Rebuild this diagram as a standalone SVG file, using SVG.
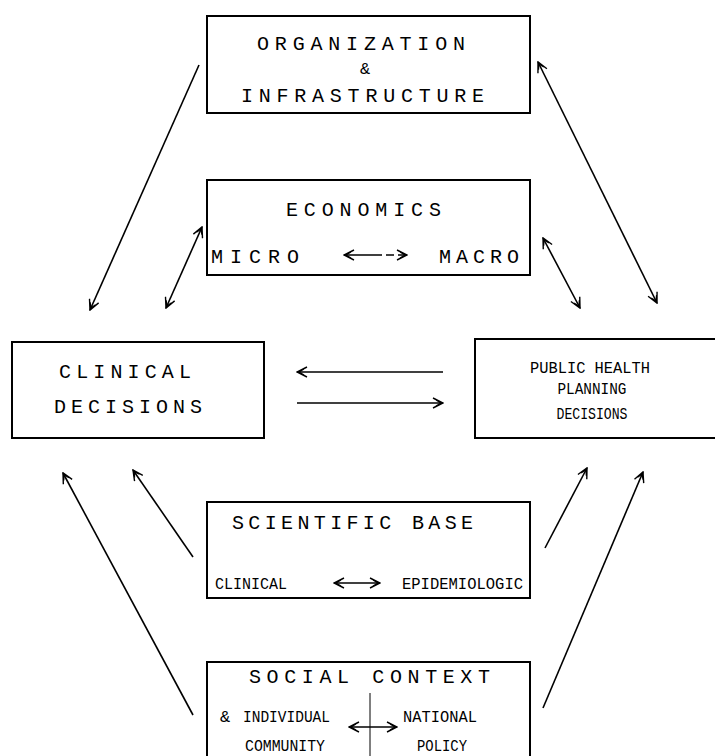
<svg xmlns="http://www.w3.org/2000/svg" width="715" height="756" viewBox="0 0 715 756">
<style>
  .box { fill: #fff; stroke: #000; stroke-width: 2; }
  .t { font-family: "Liberation Mono", "DejaVu Sans Mono", monospace; font-size: 20px; fill: #000; }
  .s { font-family: "Liberation Mono", "DejaVu Sans Mono", monospace; font-size: 17px; fill: #000; }
  .c { stroke: #000; stroke-width: 1.6; fill: none; }
</style>
<defs>
  <marker id="ah" viewBox="0 0 12 12" refX="11" refY="6" markerWidth="12" markerHeight="12" markerUnits="userSpaceOnUse" orient="auto-start-reverse">
    <path d="M1,1 L11,6 L1,11 M4,3 L9,6 L4,9" fill="none" stroke="#000" stroke-width="1.4"/>
  </marker>
</defs>
<rect width="715" height="756" fill="#fff"/>

<g id="organization">
  <rect class="box" x="207" y="16" width="323" height="97"/>
  <text class="t" x="257" y="50" textLength="208" lengthAdjust="spacing">ORGANIZATION</text>
  <text class="s" x="365" y="74" text-anchor="middle" font-size="10">&amp;</text>
  <text class="t" x="241" y="102" textLength="243" lengthAdjust="spacing">INFRASTRUCTURE</text>
</g>

<g id="economics">
  <rect class="box" x="207" y="180" width="323" height="95"/>
  <text class="t" x="286" y="216" textLength="155" lengthAdjust="spacing">ECONOMICS</text>
  <text class="t" x="211" y="263" textLength="88" lengthAdjust="spacing">MICRO</text>
  <text class="t" x="439" y="263" textLength="80" lengthAdjust="spacing">MACRO</text>
  <line class="c" x1="344" y1="255" x2="407" y2="255" stroke-dasharray="38,4,8,4" marker-start="url(#ah)" marker-end="url(#ah)"/>
</g>

<g id="clinical">
  <rect class="box" x="12" y="342" width="252" height="96"/>
  <text class="t" x="59" y="378" textLength="132" lengthAdjust="spacing">CLINICAL</text>
  <text class="t" x="54" y="413" textLength="148" lengthAdjust="spacing">DECISIONS</text>
</g>

<g id="public-health">
  <rect class="box" x="475" y="339" width="245" height="99"/>
  <text class="s" x="590" y="373" text-anchor="middle" textLength="120" lengthAdjust="spacingAndGlyphs">PUBLIC HEALTH</text>
  <text class="s" x="592" y="394" text-anchor="middle" textLength="69" lengthAdjust="spacingAndGlyphs">PLANNING</text>
  <text class="s" x="592" y="419" text-anchor="middle" textLength="71" lengthAdjust="spacingAndGlyphs">DECISIONS</text>
</g>

<g id="scientific-base">
  <rect class="box" x="207" y="502" width="323" height="96"/>
  <text class="t" x="232" y="529" textLength="241" lengthAdjust="spacing">SCIENTIFIC  BASE</text>
  <text class="s" x="215" y="589" textLength="72" lengthAdjust="spacingAndGlyphs">CLINICAL</text>
  <text class="s" x="402" y="589" textLength="121" lengthAdjust="spacingAndGlyphs">EPIDEMIOLOGIC</text>
  <line class="c" x1="334" y1="583" x2="380" y2="583" marker-start="url(#ah)" marker-end="url(#ah)"/>
</g>

<g id="social-context">
  <path class="box" d="M207,760 L207,662 L530,662 L530,760"/>
  <text class="t" x="249" y="683" textLength="241" lengthAdjust="spacing">SOCIAL  CONTEXT</text>
  <text class="s" x="220" y="722" font-size="10">&amp;</text>
  <text class="s" x="243" y="722" textLength="87" lengthAdjust="spacingAndGlyphs">INDIVIDUAL</text>
  <text class="s" x="245" y="751" textLength="80" lengthAdjust="spacingAndGlyphs">COMMUNITY</text>
  <text class="s" x="403" y="722" textLength="74" lengthAdjust="spacingAndGlyphs">NATIONAL</text>
  <text class="s" x="417" y="751" textLength="50" lengthAdjust="spacingAndGlyphs">POLICY</text>
  <line stroke="#000" stroke-width="1" x1="370" y1="693" x2="370" y2="760"/>
  <line class="c" x1="349" y1="727" x2="397" y2="727" marker-start="url(#ah)" marker-end="url(#ah)"/>
</g>

<g id="connectors">
  <line class="c" x1="199" y1="65" x2="90" y2="310" marker-end="url(#ah)"/>
  <line class="c" x1="202" y1="227" x2="166" y2="308" marker-start="url(#ah)" marker-end="url(#ah)"/>
  <line class="c" x1="538" y1="62" x2="657" y2="303" marker-start="url(#ah)" marker-end="url(#ah)"/>
  <line class="c" x1="543" y1="238" x2="580" y2="308" marker-start="url(#ah)" marker-end="url(#ah)"/>
  <line class="c" x1="443" y1="372" x2="297" y2="372" marker-end="url(#ah)"/>
  <line class="c" x1="297" y1="403" x2="443" y2="403" marker-end="url(#ah)"/>
  <line class="c" x1="193" y1="557" x2="133" y2="470" marker-end="url(#ah)"/>
  <line class="c" x1="193" y1="715" x2="63" y2="473" marker-end="url(#ah)"/>
  <line class="c" x1="545" y1="548" x2="587" y2="468" marker-end="url(#ah)"/>
  <line class="c" x1="543" y1="708" x2="643" y2="472" marker-end="url(#ah)"/>
</g>
</svg>
